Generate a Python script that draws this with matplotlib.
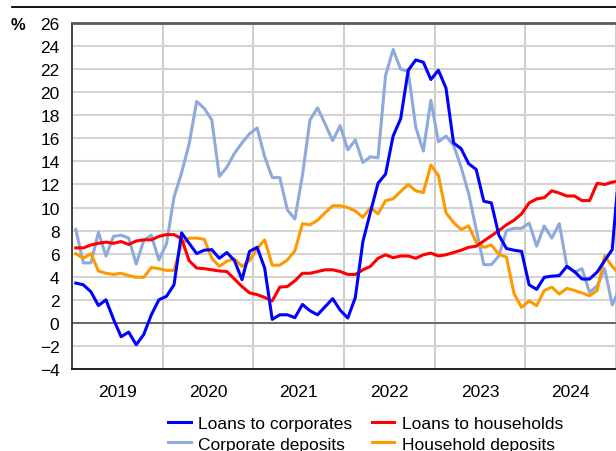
import numpy as np
import matplotlib
matplotlib.use("Agg")
import matplotlib.pyplot as plt
from matplotlib.ticker import FixedLocator, NullFormatter, FixedFormatter

# monthly growth rates, Jan 2019 onwards (last value is Jan 2025, cut at the edge)
loans_corporates = [
    3.45, 3.3, 2.7, 1.5, 2.0, 0.3, -1.2, -0.8, -1.9, -1.0, 0.7, 2.0,
    2.3, 3.3, 7.8, 6.9, 6.0, 6.3, 6.35, 5.6, 6.1, 5.4, 3.75, 6.2,
    6.55, 4.75, 0.3, 0.7, 0.7, 0.45, 1.6, 1.05, 0.7, 1.4, 2.1, 1.1,
    0.42, 2.2, 7.05, 9.6, 12.1, 12.9, 16.2, 17.7, 21.9, 22.8, 22.6, 21.1,
    21.9, 20.35, 15.6, 15.1, 13.8, 13.3, 10.55, 10.4, 7.6, 6.45, 6.3, 6.2,
    3.3, 2.9, 3.95, 4.05, 4.1, 4.9, 4.45, 3.8, 3.8, 4.4, 5.4, 6.35,
    14.0,
]
loans_households = [
    6.5, 6.5, 6.75, 6.9, 7.0, 6.9, 7.05, 6.8, 7.1, 7.2, 7.2, 7.5,
    7.65, 7.65, 7.3, 5.4, 4.75, 4.7, 4.6, 4.5, 4.45, 3.8, 3.15, 2.6,
    2.45, 2.2, 1.9, 3.1, 3.15, 3.65, 4.3, 4.3, 4.45, 4.6, 4.6, 4.45,
    4.2, 4.2, 4.6, 4.9, 5.6, 5.9, 5.65, 5.8, 5.8, 5.6, 5.9, 6.05,
    5.8, 5.9, 6.1, 6.3, 6.55, 6.65, 7.1, 7.55, 8.0, 8.5, 8.9, 9.45,
    10.4, 10.75, 10.85, 11.45, 11.25, 11.0, 11.0, 10.6, 10.6, 12.1, 12.0, 12.2,
    12.3,
]
corporate_deposits = [
    8.1, 5.2, 5.2, 7.85, 5.8, 7.5, 7.6, 7.35, 5.1, 7.15, 7.6, 5.45,
    6.85, 10.9, 13.0, 15.5, 19.2, 18.6, 17.6, 12.7, 13.5, 14.7, 15.6, 16.4,
    16.9, 14.4, 12.6, 12.6, 9.8, 9.0, 12.8, 17.6, 18.65, 17.25, 15.8, 17.1,
    15.0, 15.85, 13.9, 14.4, 14.3, 21.45, 23.7, 22.0, 21.8, 16.95, 14.9, 19.3,
    15.7, 16.2, 15.4, 13.5, 11.2, 8.1, 5.05, 5.05, 5.8, 8.0, 8.2, 8.2,
    8.65, 6.65, 8.4, 7.35, 8.6, 4.9, 4.4, 4.7, 2.65, 3.2, 4.7, 1.55,
    3.0,
]
household_deposits = [
    6.0, 5.6, 6.0, 4.5, 4.3, 4.2, 4.3, 4.1, 3.95, 3.95, 4.8, 4.7,
    4.55, 4.55, 6.85, 7.35, 7.35, 7.25, 5.6, 4.9, 5.35, 5.55, 4.9, 5.4,
    6.45, 7.2, 5.0, 5.0, 5.45, 6.25, 8.6, 8.5, 8.9, 9.55, 10.15, 10.15,
    10.0, 9.7, 9.15, 10.0, 9.45, 10.6, 10.75, 11.4, 12.0, 11.45, 11.3, 13.7,
    12.75, 9.55, 8.7, 8.1, 8.4, 7.0, 6.55, 6.75, 5.95, 5.7, 2.55, 1.35,
    1.9, 1.5, 2.8, 3.1, 2.5, 3.0, 2.8, 2.6, 2.35, 2.8, 5.8, 4.9,
    4.2,
]
years = [2019, 2020, 2021, 2022, 2023, 2024]
y_ticks = list(range(-4, 27, 2))

plt.rcParams["font.family"] = ["Liberation Sans", "DejaVu Sans"]

months = np.arange(len(loans_corporates))
x = 2019 + (months + 0.5) / 12

fig = plt.figure(figsize=(6.16, 4.52), dpi=100)
ax = fig.add_axes([72 / 616, 1 - 370 / 452, 1 - 72 / 616, 346 / 452])

ax.plot(x, corporate_deposits, color="#8eaadc", lw=2.2, label="Corporate deposits", zorder=3)
ax.plot(x, household_deposits, color="#ff9900", lw=2.2, label="Household deposits", zorder=3)
ax.plot(x, loans_households, color="#ff0000", lw=2.2, label="Loans to households", zorder=4)
ax.plot(x, loans_corporates, color="#0000ff", lw=2.2, label="Loans to corporates", zorder=5)

ax.set_xlim(2019, 2025)
ax.set_ylim(-4, 26)
ax.set_yticks(y_ticks)
ax.set_yticklabels([str(v).replace("-", "\u2212") for v in y_ticks])

ax.xaxis.set_major_locator(FixedLocator(years[1:] + [2025]))
ax.xaxis.set_major_formatter(NullFormatter())
ax.xaxis.set_minor_locator(FixedLocator([y + 0.5 for y in years]))
ax.xaxis.set_minor_formatter(FixedFormatter([str(y) for y in years]))
ax.tick_params(axis="x", which="both", length=0, labelsize=12.5, pad=11)
ax.tick_params(axis="y", length=0, labelsize=12.5, pad=9)

ax.grid(axis="y", color="#d4d4d4", lw=1.5, zorder=0)
ax.grid(axis="x", which="major", color="#c4c4c4", lw=1.2, zorder=0)
ax.axhline(0, color="#555555", lw=1.2, zorder=2)

ax.spines["right"].set_visible(False)
ax.spines["top"].set_color("#5a5a5a")
ax.spines["top"].set_linewidth(2.0)
ax.spines["left"].set_color("#333333")
ax.spines["left"].set_linewidth(1.3)
ax.spines["bottom"].set_color("#111111")
ax.spines["bottom"].set_linewidth(1.3)

fig.text(11 / 616, 1 - 26 / 452, "%", fontsize=12, fontweight="bold", va="center", ha="left")
fig.add_artist(plt.Line2D([12 / 616, 1], [1 - 8 / 452] * 2, color="black", lw=1.3))

h, l = ax.get_legend_handles_labels()
order = [3, 0, 2, 1]
fig.legend([h[i] for i in order], [l[i] for i in order], ncol=2, frameon=False,
           loc="upper left", bbox_to_anchor=(168 / 616, 1 - 417 / 452),
           fontsize=12.5, handlelength=1.3, handletextpad=0.45,
           columnspacing=1.1, labelspacing=0.3, borderaxespad=0, borderpad=0)

fig.savefig("out.png", dpi=100)
